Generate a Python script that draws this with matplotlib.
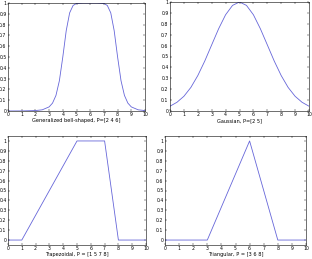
import matplotlib
matplotlib.use("Agg")
import matplotlib.pyplot as plt

# ------------ data ------------
bell_x = [0, 1, 2, 2.5, 3, 3.25, 3.5, 3.75, 4, 4.25, 4.5, 4.75, 5, 5.5, 6,
          6.5, 7, 7.25, 7.5, 7.75, 8, 8.25, 8.5, 8.75, 9, 9.5, 10]
bell_y = [0.0002, 0.0007, 0.004, 0.011, 0.038, 0.073, 0.144, 0.28, 0.5, 0.744,
          0.909, 0.977, 0.996, 1.0, 1.0, 1.0, 0.996, 0.977, 0.909, 0.744,
          0.5, 0.28, 0.144, 0.073, 0.038, 0.011, 0.004]

gauss_x = [0, 0.5, 1, 1.5, 2, 2.5, 3, 3.5, 4, 4.5, 5,
           5.5, 6, 6.5, 7, 7.5, 8, 8.5, 9, 9.5, 10]
gauss_y = [0.044, 0.080, 0.135, 0.216, 0.325, 0.458, 0.607, 0.755, 0.883, 0.969, 1.0,
           0.969, 0.883, 0.755, 0.607, 0.458, 0.325, 0.216, 0.135, 0.080, 0.044]

trap_x = [0, 1, 5, 7, 8, 10]
trap_y = [0, 0, 1, 1, 0, 0]

tri_x = [0, 3, 6, 8, 10]
tri_y = [0, 0, 1, 0, 0]

labels = ["Generalized bell-shaped, P=[2 4 6]", "Gaussian, P=[2 5]",
          "Trapezoidal, P = [1 5 7 8]", "Triangular, P = [3 6 8]"]

# ------------ plotting ------------
W, H = 312, 259
fig = plt.figure(figsize=(W / 100, H / 100), dpi=100)

# pixel boxes: left, top, right, bottom
boxes = [(8, 3, 145, 111), (170, 2, 309, 111), (8, 136, 146, 245), (165, 136, 306, 245)]
series = [(bell_x, bell_y), (gauss_x, gauss_y), (trap_x, trap_y), (tri_x, tri_y)]
ylims = [(0, 1), (0, 1), (-0.05, 1.05), (-0.05, 1.05)]

LINE = (0.4, 0.4, 0.85)
FS = 3.3

for (l, t, r, b), (xs, ys), lab, yl in zip(boxes, series, labels, ylims):
    ax = fig.add_axes([l / W, (H - b) / H, (r - l) / W, (b - t) / H])
    ax.plot(xs, ys, color=LINE, lw=0.6)
    ax.set_xlim(0, 10)
    ax.set_ylim(*yl)
    ax.set_xticks(range(11))
    ax.set_yticks([i / 10 for i in range(11)])
    ax.set_yticklabels(["0"] + [f"{i / 10:.1f}" for i in range(1, 10)] + ["1"])
    ax.tick_params(direction="in", length=1.5, width=0.3, labelsize=FS, pad=1,
                   top=True, right=True)
    for s in ax.spines.values():
        s.set_linewidth(0.4)
    ax.set_xlabel(lab, fontsize=FS + 0.3, labelpad=0.5)

fig.savefig("out.png", dpi=100)
